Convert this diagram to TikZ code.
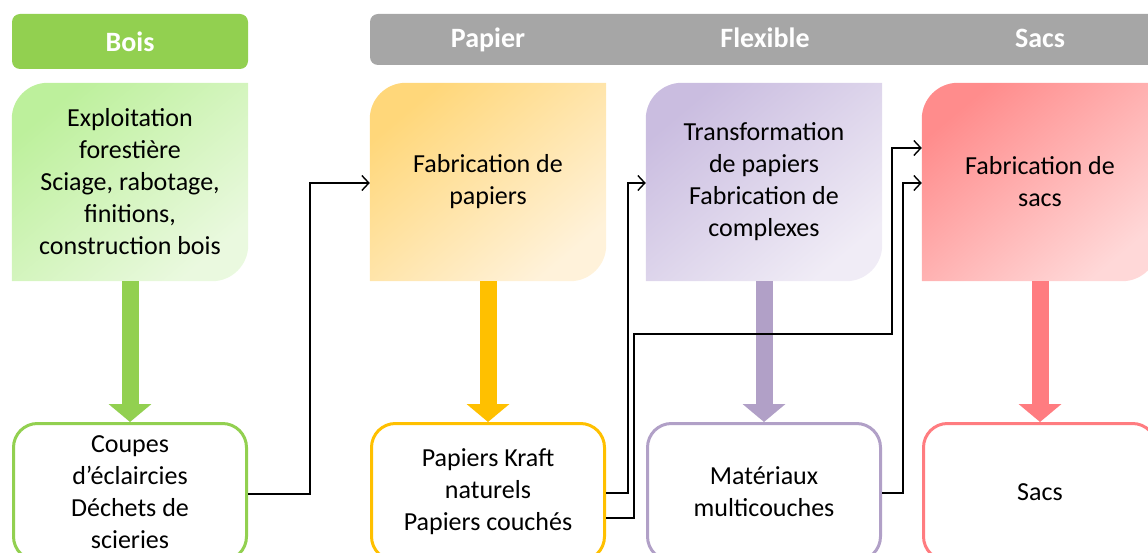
\documentclass[tikz,border=0pt]{standalone}
\usepackage{fontspec}
\setmainfont{Carlito}
\usetikzlibrary{arrows.meta,backgrounds}
\definecolor{vert}{HTML}{92D050}
\definecolor{jaune}{HTML}{FFC000}
\definecolor{violet}{HTML}{B1A0C7}
\definecolor{rouge}{HTML}{FF7C80}
\definecolor{gris}{HTML}{A6A6A6}
\definecolor{vertA}{HTML}{BDF09C}
\definecolor{vertB}{HTML}{EAF9DF}
\definecolor{jauneA}{HTML}{FFD77A}
\definecolor{jauneB}{HTML}{FFF2DA}
\definecolor{violetA}{HTML}{CABDE0}
\definecolor{violetB}{HTML}{F0ECF6}
\definecolor{rougeA}{HTML}{FF8C8C}
\definecolor{rougeB}{HTML}{FFD8D8}
\tikzset{
  titre/.style={font=\fontsize{28}{32}\selectfont\bfseries, text=white},
  haut/.style={minimum width=236pt, minimum height=198pt, inner sep=0pt, align=center,
    font=\fontsize{26}{32}\selectfont},
  bas/.style={draw=#1, line width=3pt, rounded corners=24pt, minimum width=233pt,
    minimum height=137pt, inner sep=0pt, align=center, font=\fontsize{26}{32}\selectfont},
  grosse/.style={#1, line width=17pt, -{Triangle[length=18pt,width=42pt]}},
  lien/.style={line width=1.4pt, -{Straight Barb[length=7pt,width=15pt]}}
}
\begin{document}
\begin{tikzpicture}[x=1pt, y=-1pt]
    \useasboundingbox (0,0) rectangle (1148,553);
    \clip (0,0) rectangle (1148,553);
    \fill[vert, rounded corners=8pt] (12,14) rectangle (248,69);
    \fill[gris, rounded corners=8pt] (370,14) rectangle (1170,65);
    \node[titre] (bois) at (130,42) {Bois};
    \node[titre] (papier) at (488,40) {Papier};
    \node[titre] (flexible) at (765,38) {Flexible};
    \node[titre] (sacs) at (1040,38) {Sacs};
    \node[haut] (expl) at (130,182) {Exploitation\\forestière\\Sciage, rabotage,\\finitions,\\construction bois};
    \node[haut] (fab) at (488,182) {Fabrication de\\papiers};
    \node[haut] (trans) at (764,182) {Transformation\\de papiers\\Fabrication de\\complexes};
    \node[haut] (fabsac) at (1040,182) {Fabrication de\\sacs};
    \node[bas=vert] (coupes) at (130,492) {Coupes\\d’éclaircies\\Déchets de\\scieries};
    \node[bas=jaune] (kraft) at (488,492) {Papiers Kraft\\naturels\\Papiers couchés};
    \node[bas=violet] (multi) at (764,492) {Matériaux\\multicouches};
    \node[bas=rouge] (sac) at (1040,492) {Sacs};
    \begin{scope}[on background layer]
    \foreach \n/\ca/\cb in {expl/vertA/vertB, fab/jauneA/jauneB, trans/violetA/violetB, fabsac/rougeA/rougeB}
      \shade[top color=\ca, bottom color=\cb, shading angle=40]
        (\n.south west) -- ([yshift=-36pt]\n.north west) arc[start angle=180, end angle=90, radius=36pt]
        -- (\n.north east) -- ([yshift=36pt]\n.south east) arc[start angle=0, end angle=-90, radius=36pt] -- cycle;
    \end{scope}
    \draw[grosse=vert] (expl) -- (coupes);
    \draw[grosse=jaune] (fab) -- (kraft);
    \draw[grosse=violet] (trans) -- (multi);
    \draw[grosse=rouge] (fabsac) -- (sac);
    \coordinate (jog) at (892,334);
    \draw[lien] ([yshift=-2pt]coupes.east) -- ++(62,0) |- ([yshift=-1pt]fab.west);
    \draw[lien] ([yshift=-1pt]kraft.east) -- ++(22,0) |- ([yshift=-1pt]trans.west);
    \draw[lien] ([yshift=-26pt]kraft.east) -- ++(28,0) |- (jog) |- ([yshift=34pt]fabsac.west);
    \draw[lien] ([yshift=-1pt]multi.east) -- ++(21,0) |- ([yshift=-1pt]fabsac.west);
\end{tikzpicture}
\end{document}
